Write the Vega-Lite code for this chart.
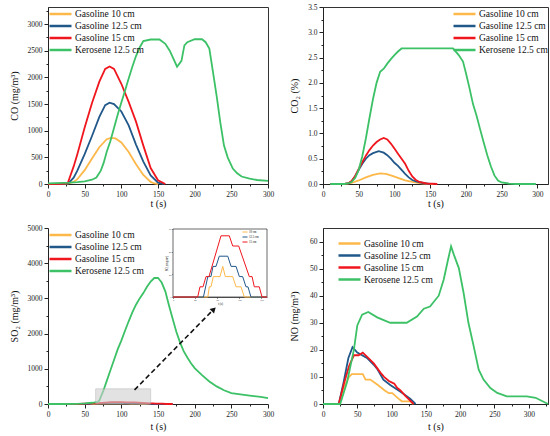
{
  "$schema": "https://vega.github.io/schema/vega-lite/v6.json",
  "background": "white",
  "padding": {"left": 8, "top": 2, "right": 0, "bottom": 0},
  "columns": 2,
  "spacing": {"row": 15, "column": 13},
  "datasets": {
    "co": [
      {"s": "Gasoline 10 cm", "t": 0, "v": 0}, {"s": "Gasoline 10 cm", "t": 20, "v": 5}, {"s": "Gasoline 10 cm", "t": 28, "v": 10}, {"s": "Gasoline 10 cm", "t": 35, "v": 40}, {"s": "Gasoline 10 cm", "t": 40, "v": 90}, {"s": "Gasoline 10 cm", "t": 50, "v": 260}, {"s": "Gasoline 10 cm", "t": 60, "v": 480}, {"s": "Gasoline 10 cm", "t": 70, "v": 690}, {"s": "Gasoline 10 cm", "t": 80, "v": 840}, {"s": "Gasoline 10 cm", "t": 86, "v": 865}, {"s": "Gasoline 10 cm", "t": 92, "v": 855}, {"s": "Gasoline 10 cm", "t": 100, "v": 780}, {"s": "Gasoline 10 cm", "t": 110, "v": 600}, {"s": "Gasoline 10 cm", "t": 120, "v": 370}, {"s": "Gasoline 10 cm", "t": 130, "v": 170}, {"s": "Gasoline 10 cm", "t": 140, "v": 40}, {"s": "Gasoline 10 cm", "t": 145, "v": 10}, {"s": "Gasoline 10 cm", "t": 150, "v": 0},
      {"s": "Gasoline 12.5 cm", "t": 0, "v": 0}, {"s": "Gasoline 12.5 cm", "t": 20, "v": 5}, {"s": "Gasoline 12.5 cm", "t": 28, "v": 15}, {"s": "Gasoline 12.5 cm", "t": 35, "v": 120}, {"s": "Gasoline 12.5 cm", "t": 40, "v": 250}, {"s": "Gasoline 12.5 cm", "t": 50, "v": 560}, {"s": "Gasoline 12.5 cm", "t": 60, "v": 900}, {"s": "Gasoline 12.5 cm", "t": 70, "v": 1260}, {"s": "Gasoline 12.5 cm", "t": 78, "v": 1480}, {"s": "Gasoline 12.5 cm", "t": 84, "v": 1525}, {"s": "Gasoline 12.5 cm", "t": 90, "v": 1500}, {"s": "Gasoline 12.5 cm", "t": 100, "v": 1360}, {"s": "Gasoline 12.5 cm", "t": 110, "v": 1100}, {"s": "Gasoline 12.5 cm", "t": 120, "v": 740}, {"s": "Gasoline 12.5 cm", "t": 130, "v": 420}, {"s": "Gasoline 12.5 cm", "t": 140, "v": 160}, {"s": "Gasoline 12.5 cm", "t": 150, "v": 25}, {"s": "Gasoline 12.5 cm", "t": 158, "v": 0},
      {"s": "Gasoline 15 cm", "t": 0, "v": 0}, {"s": "Gasoline 15 cm", "t": 20, "v": 5}, {"s": "Gasoline 15 cm", "t": 27, "v": 20}, {"s": "Gasoline 15 cm", "t": 35, "v": 330}, {"s": "Gasoline 15 cm", "t": 40, "v": 560}, {"s": "Gasoline 15 cm", "t": 50, "v": 1060}, {"s": "Gasoline 15 cm", "t": 60, "v": 1520}, {"s": "Gasoline 15 cm", "t": 70, "v": 1920}, {"s": "Gasoline 15 cm", "t": 78, "v": 2160}, {"s": "Gasoline 15 cm", "t": 84, "v": 2205}, {"s": "Gasoline 15 cm", "t": 90, "v": 2160}, {"s": "Gasoline 15 cm", "t": 100, "v": 1880}, {"s": "Gasoline 15 cm", "t": 110, "v": 1540}, {"s": "Gasoline 15 cm", "t": 120, "v": 1170}, {"s": "Gasoline 15 cm", "t": 130, "v": 720}, {"s": "Gasoline 15 cm", "t": 140, "v": 300}, {"s": "Gasoline 15 cm", "t": 150, "v": 70}, {"s": "Gasoline 15 cm", "t": 160, "v": 0},
      {"s": "Kerosene 12.5 cm", "t": 0, "v": 10}, {"s": "Kerosene 12.5 cm", "t": 10, "v": 15}, {"s": "Kerosene 12.5 cm", "t": 20, "v": 20}, {"s": "Kerosene 12.5 cm", "t": 30, "v": 25}, {"s": "Kerosene 12.5 cm", "t": 40, "v": 35}, {"s": "Kerosene 12.5 cm", "t": 50, "v": 50}, {"s": "Kerosene 12.5 cm", "t": 60, "v": 80}, {"s": "Kerosene 12.5 cm", "t": 66, "v": 120}, {"s": "Kerosene 12.5 cm", "t": 72, "v": 250}, {"s": "Kerosene 12.5 cm", "t": 76, "v": 400}, {"s": "Kerosene 12.5 cm", "t": 80, "v": 600}, {"s": "Kerosene 12.5 cm", "t": 85, "v": 800}, {"s": "Kerosene 12.5 cm", "t": 90, "v": 1050}, {"s": "Kerosene 12.5 cm", "t": 95, "v": 1300}, {"s": "Kerosene 12.5 cm", "t": 100, "v": 1530}, {"s": "Kerosene 12.5 cm", "t": 105, "v": 1750}, {"s": "Kerosene 12.5 cm", "t": 110, "v": 1980}, {"s": "Kerosene 12.5 cm", "t": 115, "v": 2200}, {"s": "Kerosene 12.5 cm", "t": 120, "v": 2400}, {"s": "Kerosene 12.5 cm", "t": 125, "v": 2560}, {"s": "Kerosene 12.5 cm", "t": 130, "v": 2680}, {"s": "Kerosene 12.5 cm", "t": 140, "v": 2710}, {"s": "Kerosene 12.5 cm", "t": 152, "v": 2710}, {"s": "Kerosene 12.5 cm", "t": 160, "v": 2630}, {"s": "Kerosene 12.5 cm", "t": 166, "v": 2500}, {"s": "Kerosene 12.5 cm", "t": 176, "v": 2200}, {"s": "Kerosene 12.5 cm", "t": 182, "v": 2310}, {"s": "Kerosene 12.5 cm", "t": 186, "v": 2600}, {"s": "Kerosene 12.5 cm", "t": 190, "v": 2660}, {"s": "Kerosene 12.5 cm", "t": 200, "v": 2715}, {"s": "Kerosene 12.5 cm", "t": 210, "v": 2715}, {"s": "Kerosene 12.5 cm", "t": 215, "v": 2660}, {"s": "Kerosene 12.5 cm", "t": 220, "v": 2540}, {"s": "Kerosene 12.5 cm", "t": 225, "v": 2100}, {"s": "Kerosene 12.5 cm", "t": 230, "v": 1650}, {"s": "Kerosene 12.5 cm", "t": 235, "v": 1150}, {"s": "Kerosene 12.5 cm", "t": 240, "v": 720}, {"s": "Kerosene 12.5 cm", "t": 245, "v": 500}, {"s": "Kerosene 12.5 cm", "t": 252, "v": 290}, {"s": "Kerosene 12.5 cm", "t": 258, "v": 200}, {"s": "Kerosene 12.5 cm", "t": 264, "v": 140}, {"s": "Kerosene 12.5 cm", "t": 275, "v": 100}, {"s": "Kerosene 12.5 cm", "t": 285, "v": 75}, {"s": "Kerosene 12.5 cm", "t": 300, "v": 60}
    ],
    "co2": [
      {"s": "Gasoline 10 cm", "t": 10, "v": 0}, {"s": "Gasoline 10 cm", "t": 30, "v": 0}, {"s": "Gasoline 10 cm", "t": 40, "v": 0.02}, {"s": "Gasoline 10 cm", "t": 50, "v": 0.07}, {"s": "Gasoline 10 cm", "t": 60, "v": 0.13}, {"s": "Gasoline 10 cm", "t": 70, "v": 0.18}, {"s": "Gasoline 10 cm", "t": 80, "v": 0.21}, {"s": "Gasoline 10 cm", "t": 88, "v": 0.2}, {"s": "Gasoline 10 cm", "t": 95, "v": 0.17}, {"s": "Gasoline 10 cm", "t": 105, "v": 0.12}, {"s": "Gasoline 10 cm", "t": 115, "v": 0.07}, {"s": "Gasoline 10 cm", "t": 125, "v": 0.04}, {"s": "Gasoline 10 cm", "t": 135, "v": 0.02}, {"s": "Gasoline 10 cm", "t": 145, "v": 0.005}, {"s": "Gasoline 10 cm", "t": 155, "v": 0},
      {"s": "Gasoline 12.5 cm", "t": 10, "v": 0}, {"s": "Gasoline 12.5 cm", "t": 30, "v": 0}, {"s": "Gasoline 12.5 cm", "t": 35, "v": 0.01}, {"s": "Gasoline 12.5 cm", "t": 40, "v": 0.05}, {"s": "Gasoline 12.5 cm", "t": 45, "v": 0.15}, {"s": "Gasoline 12.5 cm", "t": 50, "v": 0.28}, {"s": "Gasoline 12.5 cm", "t": 55, "v": 0.4}, {"s": "Gasoline 12.5 cm", "t": 60, "v": 0.5}, {"s": "Gasoline 12.5 cm", "t": 65, "v": 0.57}, {"s": "Gasoline 12.5 cm", "t": 70, "v": 0.61}, {"s": "Gasoline 12.5 cm", "t": 78, "v": 0.65}, {"s": "Gasoline 12.5 cm", "t": 85, "v": 0.62}, {"s": "Gasoline 12.5 cm", "t": 90, "v": 0.57}, {"s": "Gasoline 12.5 cm", "t": 95, "v": 0.5}, {"s": "Gasoline 12.5 cm", "t": 100, "v": 0.42}, {"s": "Gasoline 12.5 cm", "t": 105, "v": 0.36}, {"s": "Gasoline 12.5 cm", "t": 110, "v": 0.28}, {"s": "Gasoline 12.5 cm", "t": 115, "v": 0.2}, {"s": "Gasoline 12.5 cm", "t": 120, "v": 0.13}, {"s": "Gasoline 12.5 cm", "t": 125, "v": 0.08}, {"s": "Gasoline 12.5 cm", "t": 130, "v": 0.05}, {"s": "Gasoline 12.5 cm", "t": 140, "v": 0.02}, {"s": "Gasoline 12.5 cm", "t": 150, "v": 0},
      {"s": "Gasoline 15 cm", "t": 10, "v": 0}, {"s": "Gasoline 15 cm", "t": 30, "v": 0}, {"s": "Gasoline 15 cm", "t": 35, "v": 0.01}, {"s": "Gasoline 15 cm", "t": 40, "v": 0.06}, {"s": "Gasoline 15 cm", "t": 45, "v": 0.16}, {"s": "Gasoline 15 cm", "t": 50, "v": 0.3}, {"s": "Gasoline 15 cm", "t": 55, "v": 0.43}, {"s": "Gasoline 15 cm", "t": 60, "v": 0.56}, {"s": "Gasoline 15 cm", "t": 65, "v": 0.67}, {"s": "Gasoline 15 cm", "t": 70, "v": 0.76}, {"s": "Gasoline 15 cm", "t": 75, "v": 0.83}, {"s": "Gasoline 15 cm", "t": 80, "v": 0.88}, {"s": "Gasoline 15 cm", "t": 85, "v": 0.91}, {"s": "Gasoline 15 cm", "t": 90, "v": 0.88}, {"s": "Gasoline 15 cm", "t": 95, "v": 0.8}, {"s": "Gasoline 15 cm", "t": 100, "v": 0.7}, {"s": "Gasoline 15 cm", "t": 105, "v": 0.6}, {"s": "Gasoline 15 cm", "t": 110, "v": 0.5}, {"s": "Gasoline 15 cm", "t": 115, "v": 0.4}, {"s": "Gasoline 15 cm", "t": 120, "v": 0.26}, {"s": "Gasoline 15 cm", "t": 125, "v": 0.15}, {"s": "Gasoline 15 cm", "t": 130, "v": 0.08}, {"s": "Gasoline 15 cm", "t": 135, "v": 0.04}, {"s": "Gasoline 15 cm", "t": 145, "v": 0.01}, {"s": "Gasoline 15 cm", "t": 160, "v": 0},
      {"s": "Kerosene 12.5 cm", "t": 10, "v": 0}, {"s": "Kerosene 12.5 cm", "t": 30, "v": 0}, {"s": "Kerosene 12.5 cm", "t": 35, "v": 0.01}, {"s": "Kerosene 12.5 cm", "t": 40, "v": 0.04}, {"s": "Kerosene 12.5 cm", "t": 45, "v": 0.12}, {"s": "Kerosene 12.5 cm", "t": 50, "v": 0.28}, {"s": "Kerosene 12.5 cm", "t": 55, "v": 0.55}, {"s": "Kerosene 12.5 cm", "t": 60, "v": 0.9}, {"s": "Kerosene 12.5 cm", "t": 65, "v": 1.3}, {"s": "Kerosene 12.5 cm", "t": 70, "v": 1.68}, {"s": "Kerosene 12.5 cm", "t": 75, "v": 2.0}, {"s": "Kerosene 12.5 cm", "t": 80, "v": 2.22}, {"s": "Kerosene 12.5 cm", "t": 85, "v": 2.28}, {"s": "Kerosene 12.5 cm", "t": 90, "v": 2.38}, {"s": "Kerosene 12.5 cm", "t": 95, "v": 2.47}, {"s": "Kerosene 12.5 cm", "t": 100, "v": 2.55}, {"s": "Kerosene 12.5 cm", "t": 105, "v": 2.62}, {"s": "Kerosene 12.5 cm", "t": 110, "v": 2.68}, {"s": "Kerosene 12.5 cm", "t": 182, "v": 2.68}, {"s": "Kerosene 12.5 cm", "t": 190, "v": 2.55}, {"s": "Kerosene 12.5 cm", "t": 196, "v": 2.42}, {"s": "Kerosene 12.5 cm", "t": 200, "v": 2.2}, {"s": "Kerosene 12.5 cm", "t": 205, "v": 1.9}, {"s": "Kerosene 12.5 cm", "t": 210, "v": 1.58}, {"s": "Kerosene 12.5 cm", "t": 215, "v": 1.35}, {"s": "Kerosene 12.5 cm", "t": 220, "v": 1.08}, {"s": "Kerosene 12.5 cm", "t": 225, "v": 0.82}, {"s": "Kerosene 12.5 cm", "t": 230, "v": 0.57}, {"s": "Kerosene 12.5 cm", "t": 235, "v": 0.35}, {"s": "Kerosene 12.5 cm", "t": 240, "v": 0.17}, {"s": "Kerosene 12.5 cm", "t": 245, "v": 0.07}, {"s": "Kerosene 12.5 cm", "t": 250, "v": 0.03}, {"s": "Kerosene 12.5 cm", "t": 260, "v": 0.01}, {"s": "Kerosene 12.5 cm", "t": 270, "v": 0}, {"s": "Kerosene 12.5 cm", "t": 298, "v": 0}
    ],
    "so2": [
      {"s": "Gasoline 10 cm", "t": 0, "v": 0}, {"s": "Gasoline 10 cm", "t": 63, "v": 0}, {"s": "Gasoline 10 cm", "t": 65.6, "v": 9}, {"s": "Gasoline 10 cm", "t": 68.7, "v": 9}, {"s": "Gasoline 10 cm", "t": 72.9, "v": 18}, {"s": "Gasoline 10 cm", "t": 85, "v": 18}, {"s": "Gasoline 10 cm", "t": 90, "v": 27}, {"s": "Gasoline 10 cm", "t": 94.6, "v": 18}, {"s": "Gasoline 10 cm", "t": 108, "v": 18}, {"s": "Gasoline 10 cm", "t": 114, "v": 9}, {"s": "Gasoline 10 cm", "t": 123, "v": 9}, {"s": "Gasoline 10 cm", "t": 129, "v": 0}, {"s": "Gasoline 10 cm", "t": 170, "v": 0},
      {"s": "Gasoline 12.5 cm", "t": 0, "v": 0}, {"s": "Gasoline 12.5 cm", "t": 55, "v": 0}, {"s": "Gasoline 12.5 cm", "t": 63, "v": 18}, {"s": "Gasoline 12.5 cm", "t": 68.7, "v": 18}, {"s": "Gasoline 12.5 cm", "t": 72.3, "v": 27}, {"s": "Gasoline 12.5 cm", "t": 77.8, "v": 27}, {"s": "Gasoline 12.5 cm", "t": 83.7, "v": 36}, {"s": "Gasoline 12.5 cm", "t": 99, "v": 36}, {"s": "Gasoline 12.5 cm", "t": 105, "v": 27}, {"s": "Gasoline 12.5 cm", "t": 114, "v": 27}, {"s": "Gasoline 12.5 cm", "t": 120, "v": 18}, {"s": "Gasoline 12.5 cm", "t": 126, "v": 18}, {"s": "Gasoline 12.5 cm", "t": 132, "v": 9}, {"s": "Gasoline 12.5 cm", "t": 135.6, "v": 9}, {"s": "Gasoline 12.5 cm", "t": 141, "v": 0}, {"s": "Gasoline 12.5 cm", "t": 170, "v": 0},
      {"s": "Gasoline 15 cm", "t": 0, "v": 0}, {"s": "Gasoline 15 cm", "t": 44.7, "v": 0}, {"s": "Gasoline 15 cm", "t": 48.8, "v": 9}, {"s": "Gasoline 15 cm", "t": 54.3, "v": 9}, {"s": "Gasoline 15 cm", "t": 59.7, "v": 18}, {"s": "Gasoline 15 cm", "t": 65.1, "v": 18}, {"s": "Gasoline 15 cm", "t": 86.8, "v": 54}, {"s": "Gasoline 15 cm", "t": 101.8, "v": 54}, {"s": "Gasoline 15 cm", "t": 108, "v": 45}, {"s": "Gasoline 15 cm", "t": 118.8, "v": 45}, {"s": "Gasoline 15 cm", "t": 138, "v": 18}, {"s": "Gasoline 15 cm", "t": 143, "v": 18}, {"s": "Gasoline 15 cm", "t": 147, "v": 9}, {"s": "Gasoline 15 cm", "t": 156, "v": 9}, {"s": "Gasoline 15 cm", "t": 161, "v": 0}, {"s": "Gasoline 15 cm", "t": 170, "v": 0},
      {"s": "Kerosene 12.5 cm", "t": 0, "v": 0}, {"s": "Kerosene 12.5 cm", "t": 20, "v": 0}, {"s": "Kerosene 12.5 cm", "t": 40, "v": 5}, {"s": "Kerosene 12.5 cm", "t": 50, "v": 15}, {"s": "Kerosene 12.5 cm", "t": 60, "v": 35}, {"s": "Kerosene 12.5 cm", "t": 68, "v": 60}, {"s": "Kerosene 12.5 cm", "t": 70, "v": 100}, {"s": "Kerosene 12.5 cm", "t": 75, "v": 350}, {"s": "Kerosene 12.5 cm", "t": 80, "v": 650}, {"s": "Kerosene 12.5 cm", "t": 85, "v": 950}, {"s": "Kerosene 12.5 cm", "t": 90, "v": 1250}, {"s": "Kerosene 12.5 cm", "t": 95, "v": 1550}, {"s": "Kerosene 12.5 cm", "t": 100, "v": 1800}, {"s": "Kerosene 12.5 cm", "t": 105, "v": 2080}, {"s": "Kerosene 12.5 cm", "t": 110, "v": 2350}, {"s": "Kerosene 12.5 cm", "t": 115, "v": 2600}, {"s": "Kerosene 12.5 cm", "t": 120, "v": 2820}, {"s": "Kerosene 12.5 cm", "t": 125, "v": 3000}, {"s": "Kerosene 12.5 cm", "t": 130, "v": 3150}, {"s": "Kerosene 12.5 cm", "t": 135, "v": 3330}, {"s": "Kerosene 12.5 cm", "t": 140, "v": 3480}, {"s": "Kerosene 12.5 cm", "t": 145, "v": 3580}, {"s": "Kerosene 12.5 cm", "t": 150, "v": 3585}, {"s": "Kerosene 12.5 cm", "t": 155, "v": 3450}, {"s": "Kerosene 12.5 cm", "t": 160, "v": 3200}, {"s": "Kerosene 12.5 cm", "t": 165, "v": 2800}, {"s": "Kerosene 12.5 cm", "t": 170, "v": 2420}, {"s": "Kerosene 12.5 cm", "t": 175, "v": 2050}, {"s": "Kerosene 12.5 cm", "t": 180, "v": 1750}, {"s": "Kerosene 12.5 cm", "t": 185, "v": 1500}, {"s": "Kerosene 12.5 cm", "t": 190, "v": 1320}, {"s": "Kerosene 12.5 cm", "t": 195, "v": 1160}, {"s": "Kerosene 12.5 cm", "t": 200, "v": 1020}, {"s": "Kerosene 12.5 cm", "t": 210, "v": 820}, {"s": "Kerosene 12.5 cm", "t": 220, "v": 640}, {"s": "Kerosene 12.5 cm", "t": 230, "v": 500}, {"s": "Kerosene 12.5 cm", "t": 240, "v": 390}, {"s": "Kerosene 12.5 cm", "t": 250, "v": 310}, {"s": "Kerosene 12.5 cm", "t": 260, "v": 280}, {"s": "Kerosene 12.5 cm", "t": 275, "v": 240}, {"s": "Kerosene 12.5 cm", "t": 290, "v": 200}, {"s": "Kerosene 12.5 cm", "t": 300, "v": 170}
    ],
    "no": [
      {"s": "Gasoline 10 cm", "t": 0, "v": 0}, {"s": "Gasoline 10 cm", "t": 23, "v": 0}, {"s": "Gasoline 10 cm", "t": 30, "v": 6}, {"s": "Gasoline 10 cm", "t": 38, "v": 10}, {"s": "Gasoline 10 cm", "t": 42, "v": 11}, {"s": "Gasoline 10 cm", "t": 58, "v": 11}, {"s": "Gasoline 10 cm", "t": 62, "v": 9}, {"s": "Gasoline 10 cm", "t": 69, "v": 9}, {"s": "Gasoline 10 cm", "t": 80, "v": 7}, {"s": "Gasoline 10 cm", "t": 90, "v": 5}, {"s": "Gasoline 10 cm", "t": 96, "v": 4}, {"s": "Gasoline 10 cm", "t": 101, "v": 4}, {"s": "Gasoline 10 cm", "t": 110, "v": 2}, {"s": "Gasoline 10 cm", "t": 115, "v": 1}, {"s": "Gasoline 10 cm", "t": 127, "v": 1}, {"s": "Gasoline 10 cm", "t": 132, "v": 0},
      {"s": "Gasoline 12.5 cm", "t": 0, "v": 0}, {"s": "Gasoline 12.5 cm", "t": 23, "v": 0}, {"s": "Gasoline 12.5 cm", "t": 30, "v": 8}, {"s": "Gasoline 12.5 cm", "t": 37, "v": 17}, {"s": "Gasoline 12.5 cm", "t": 43, "v": 21}, {"s": "Gasoline 12.5 cm", "t": 50, "v": 19}, {"s": "Gasoline 12.5 cm", "t": 64, "v": 17}, {"s": "Gasoline 12.5 cm", "t": 74, "v": 14.5}, {"s": "Gasoline 12.5 cm", "t": 79, "v": 13}, {"s": "Gasoline 12.5 cm", "t": 88, "v": 9}, {"s": "Gasoline 12.5 cm", "t": 98, "v": 7}, {"s": "Gasoline 12.5 cm", "t": 113, "v": 4.5}, {"s": "Gasoline 12.5 cm", "t": 127, "v": 2}, {"s": "Gasoline 12.5 cm", "t": 135, "v": 0},
      {"s": "Gasoline 15 cm", "t": 0, "v": 0}, {"s": "Gasoline 15 cm", "t": 23, "v": 0}, {"s": "Gasoline 15 cm", "t": 30, "v": 7}, {"s": "Gasoline 15 cm", "t": 38, "v": 14}, {"s": "Gasoline 15 cm", "t": 45, "v": 18}, {"s": "Gasoline 15 cm", "t": 52, "v": 18}, {"s": "Gasoline 15 cm", "t": 58, "v": 19}, {"s": "Gasoline 15 cm", "t": 64, "v": 17.5}, {"s": "Gasoline 15 cm", "t": 74, "v": 15}, {"s": "Gasoline 15 cm", "t": 84, "v": 11.5}, {"s": "Gasoline 15 cm", "t": 89, "v": 10}, {"s": "Gasoline 15 cm", "t": 96, "v": 8.5}, {"s": "Gasoline 15 cm", "t": 100, "v": 8}, {"s": "Gasoline 15 cm", "t": 104, "v": 7.5}, {"s": "Gasoline 15 cm", "t": 108, "v": 6}, {"s": "Gasoline 15 cm", "t": 113, "v": 5}, {"s": "Gasoline 15 cm", "t": 120, "v": 3}, {"s": "Gasoline 15 cm", "t": 126, "v": 1.5}, {"s": "Gasoline 15 cm", "t": 132, "v": 0},
      {"s": "Kerosene 12.5 cm", "t": 0, "v": 0}, {"s": "Kerosene 12.5 cm", "t": 25, "v": 0}, {"s": "Kerosene 12.5 cm", "t": 35, "v": 8}, {"s": "Kerosene 12.5 cm", "t": 45, "v": 20}, {"s": "Kerosene 12.5 cm", "t": 50, "v": 29}, {"s": "Kerosene 12.5 cm", "t": 57, "v": 33}, {"s": "Kerosene 12.5 cm", "t": 66, "v": 34}, {"s": "Kerosene 12.5 cm", "t": 79, "v": 32}, {"s": "Kerosene 12.5 cm", "t": 88.5, "v": 31}, {"s": "Kerosene 12.5 cm", "t": 98, "v": 30}, {"s": "Kerosene 12.5 cm", "t": 122, "v": 30}, {"s": "Kerosene 12.5 cm", "t": 137, "v": 32.3}, {"s": "Kerosene 12.5 cm", "t": 147, "v": 35.2}, {"s": "Kerosene 12.5 cm", "t": 156, "v": 36}, {"s": "Kerosene 12.5 cm", "t": 168.7, "v": 40}, {"s": "Kerosene 12.5 cm", "t": 176, "v": 46}, {"s": "Kerosene 12.5 cm", "t": 182, "v": 53}, {"s": "Kerosene 12.5 cm", "t": 186.7, "v": 58.2}, {"s": "Kerosene 12.5 cm", "t": 191, "v": 55}, {"s": "Kerosene 12.5 cm", "t": 198, "v": 50.2}, {"s": "Kerosene 12.5 cm", "t": 205, "v": 41}, {"s": "Kerosene 12.5 cm", "t": 212, "v": 30}, {"s": "Kerosene 12.5 cm", "t": 219.7, "v": 21.3}, {"s": "Kerosene 12.5 cm", "t": 227, "v": 12.7}, {"s": "Kerosene 12.5 cm", "t": 234, "v": 9}, {"s": "Kerosene 12.5 cm", "t": 244, "v": 5.9}, {"s": "Kerosene 12.5 cm", "t": 254, "v": 4.1}, {"s": "Kerosene 12.5 cm", "t": 268, "v": 2.8}, {"s": "Kerosene 12.5 cm", "t": 297, "v": 2.8}, {"s": "Kerosene 12.5 cm", "t": 310, "v": 2.3}, {"s": "Kerosene 12.5 cm", "t": 328, "v": 0}
    ],
    "box": [{"t": 65, "t2": 140, "v": 0, "v2": 430}],
    "arrow": [{"t": 118, "v": 400}, {"t": 224, "v": 2650}],
    "head": [{"t": 226, "v": 2690}],
    "frame": [{"t": 0, "t2": 170, "v": 0, "v2": 60}]
  },
  "concat": [
    {
      "width": 220, "height": 177,
      "data": {"name": "co"},
      "layer": [
        {
          "mark": {"type": "line", "strokeWidth": 1.8},
          "encoding": {
            "x": {"field": "t", "type": "quantitative", "scale": {"domain": [0, 300], "nice": false}, "axis": {"values": [0, 50, 100, 150, 200, 250, 300], "format": "d", "title": "t (s)", "titlePadding": 1}},
            "y": {"field": "v", "type": "quantitative", "scale": {"domain": [0, 3320], "nice": false}, "axis": {"values": [0, 500, 1000, 1500, 2000, 2500, 3000], "format": "d", "title": "CO (mg/m³)", "minExtent": 21, "maxExtent": 21, "titlePadding": 8}},
            "color": {"field": "s", "type": "nominal", "scale": {"domain": ["Gasoline 10 cm", "Gasoline 12.5 cm", "Gasoline 15 cm", "Kerosene 12.5 cm"], "range": ["#FDB84A", "#21588A", "#F0161E", "#3CC166"]}, "legend": {"title": null, "orient": "none", "legendX": 5.5, "legendY": 0}}
          }
        },
        {
          "mark": {"type": "line", "opacity": 0},
          "encoding": {
            "x": {"field": "t", "type": "quantitative", "scale": {"domain": [0, 300], "nice": false}, "axis": {"orient": "bottom", "values": [25, 75, 125, 175, 225, 275], "labels": false, "domain": false, "title": null, "tickSize": 2}},
            "y": {"field": "v", "type": "quantitative", "scale": {"domain": [0, 3320], "nice": false}, "axis": {"orient": "left", "values": [250, 750, 1250, 1750, 2250, 2750, 3250], "labels": false, "domain": false, "title": null, "tickSize": 2}}
          }
        }
      ],
      "resolve": {"axis": {"x": "independent", "y": "independent"}}
    },
    {
      "width": 225, "height": 177,
      "data": {"name": "co2"},
      "layer": [
        {
          "mark": {"type": "line", "strokeWidth": 1.8},
          "encoding": {
            "x": {"field": "t", "type": "quantitative", "scale": {"domain": [0, 315], "nice": false}, "axis": {"values": [0, 50, 100, 150, 200, 250, 300], "format": "d", "title": "t (s)", "titlePadding": 1}},
            "y": {"field": "v", "type": "quantitative", "scale": {"domain": [0, 3.5], "nice": false}, "axis": {"values": [0, 0.5, 1, 1.5, 2, 2.5, 3, 3.5], "format": ".1f", "title": "CO₂ (%)", "minExtent": 18, "maxExtent": 18, "titlePadding": 6}},
            "color": {"field": "s", "type": "nominal", "scale": {"domain": ["Gasoline 10 cm", "Gasoline 12.5 cm", "Gasoline 15 cm", "Kerosene 12.5 cm"], "range": ["#FDB84A", "#21588A", "#F0161E", "#3CC166"]}, "legend": {"title": null, "orient": "none", "legendX": 134.5, "legendY": 0}}
          }
        },
        {
          "mark": {"type": "line", "opacity": 0},
          "encoding": {
            "x": {"field": "t", "type": "quantitative", "scale": {"domain": [0, 315], "nice": false}, "axis": {"orient": "bottom", "values": [25, 75, 125, 175, 225, 275], "labels": false, "domain": false, "title": null, "tickSize": 2}},
            "y": {"field": "v", "type": "quantitative", "scale": {"domain": [0, 3.5], "nice": false}, "axis": {"orient": "left", "values": [0.25, 0.75, 1.25, 1.75, 2.25, 2.75, 3.25], "labels": false, "domain": false, "title": null, "tickSize": 2}}
          }
        }
      ],
      "resolve": {"axis": {"x": "independent", "y": "independent"}}
    },
    {
      "width": 220, "height": 176,
      "view": {"stroke": null},
      "layer": [
        {
          "layer": [
            {
              "data": {"name": "so2"},
              "mark": {"type": "line", "strokeWidth": 1.8},
              "encoding": {
                "x": {"field": "t", "type": "quantitative", "scale": {"domain": [0, 300], "nice": false}, "axis": {"values": [0, 50, 100, 150, 200, 250, 300], "format": "d", "labelOverlap": false, "title": "t (s)", "titlePadding": 4}},
                "y": {"field": "v", "type": "quantitative", "scale": {"domain": [0, 5000], "nice": false}, "axis": {"values": [0, 1000, 2000, 3000, 4000, 5000], "format": "d", "labelOverlap": false, "title": "SO₂ (mg/m³)", "minExtent": 21, "maxExtent": 21, "titlePadding": 8}},
                "color": {"field": "s", "type": "nominal", "scale": {"domain": ["Gasoline 10 cm", "Gasoline 12.5 cm", "Gasoline 15 cm", "Kerosene 12.5 cm"], "range": ["#FDB84A", "#21588A", "#F0161E", "#3CC166"]}, "legend": {"title": null, "orient": "none", "legendX": 5.5, "legendY": 0}}
              }
            },
            {
              "data": {"name": "so2"},
              "mark": {"type": "line", "opacity": 0},
              "encoding": {
                "x": {"field": "t", "type": "quantitative", "axis": {"orient": "bottom", "values": [25, 75, 125, 175, 225, 275], "labels": false, "domain": false, "title": null, "tickSize": 2}},
                "y": {"field": "v", "type": "quantitative", "axis": {"orient": "left", "values": [500, 1500, 2500, 3500, 4500], "labels": false, "domain": false, "title": null, "tickSize": 2}}
              }
            },
            {
              "data": {"name": "box"},
              "mark": {"type": "rect", "fill": "#cfcfcf", "opacity": 0.6, "stroke": "#aaaaaa", "strokeWidth": 0.8},
              "encoding": {
                "x": {"field": "t", "type": "quantitative", "axis": null},
                "x2": {"field": "t2"},
                "y": {"field": "v", "type": "quantitative", "axis": null},
                "y2": {"field": "v2"}
              }
            },
            {
              "data": {"name": "arrow"},
              "mark": {"type": "line", "color": "#111111", "strokeWidth": 1.6, "strokeDash": [5, 3]},
              "encoding": {
                "x": {"field": "t", "type": "quantitative", "axis": null},
                "y": {"field": "v", "type": "quantitative", "axis": null}
              }
            },
            {
              "data": {"name": "head"},
              "mark": {"type": "point", "shape": "triangle-up", "angle": 45, "filled": true, "color": "#111111", "size": 40, "opacity": 1},
              "encoding": {
                "x": {"field": "t", "type": "quantitative", "axis": null},
                "y": {"field": "v", "type": "quantitative", "axis": null}
              }
            }
          ],
          "resolve": {"axis": {"x": "independent", "y": "independent"}}
        },
        {
          "layer": [
            {
              "data": {"name": "frame"},
              "mark": {"type": "rect", "fill": "white", "stroke": "#444444", "strokeWidth": 0.8},
              "encoding": {
                "x": {"field": "t", "type": "quantitative", "scale": {"domain": [0, 170], "range": [125, 219], "nice": false}, "axis": {"orient": "bottom", "offset": -107, "values": [0, 20, 40, 60, 80, 100, 120, 140, 160], "labelOverlap": false, "title": "t (s)", "titleFontSize": 3, "titlePadding": 0.5, "labelFontSize": 2.5, "labelPadding": 0.5, "tickSize": 1.5, "tickWidth": 0.5, "domainWidth": 0.8}},
                "x2": {"field": "t2"},
                "y": {"field": "v", "type": "quantitative", "scale": {"domain": [0, 60], "range": [69, 1], "nice": false}, "axis": {"orient": "left", "offset": -125, "values": [0, 10, 20, 30, 40, 50, 60], "labelOverlap": false, "title": "SO₂ (mg/m³)", "titleFontSize": 3, "titlePadding": 0.5, "labelFontSize": 2.5, "labelPadding": 0.5, "tickSize": 1.5, "tickWidth": 0.5, "domainWidth": 0.8}},
                "y2": {"field": "v2"}
              }
            },
            {
              "data": {"name": "so2"},
              "transform": [{"filter": "datum.s !== 'Kerosene 12.5 cm'"}],
              "mark": {"type": "line", "strokeWidth": 1},
              "encoding": {
                "x": {"field": "t", "type": "quantitative"},
                "y": {"field": "v", "type": "quantitative"},
                "color": {"field": "s", "type": "nominal", "scale": {"domain": ["Gasoline 10 cm", "Gasoline 12.5 cm", "Gasoline 15 cm"], "range": ["#FDB84A", "#21588A", "#F0161E"]}, "legend": {"title": null, "orient": "none", "legendX": 194, "legendY": 1, "labelFontSize": 3, "symbolType": "stroke", "symbolSize": 25, "symbolStrokeWidth": 1, "labelOffset": 1, "rowPadding": 0, "labelExpr": "replace(datum.label, 'Gasoline ', '')"}}
              }
            }
          ]
        }
      ],
      "resolve": {"scale": {"x": "independent", "y": "independent", "color": "independent"}}
    },
    {
      "width": 225, "height": 176,
      "data": {"name": "no"},
      "layer": [
        {
          "mark": {"type": "line", "strokeWidth": 1.8},
          "encoding": {
            "x": {"field": "t", "type": "quantitative", "scale": {"domain": [0, 328], "nice": false}, "axis": {"values": [0, 50, 100, 150, 200, 250, 300], "format": "d", "title": "t (s)", "titlePadding": 4}},
            "y": {"field": "v", "type": "quantitative", "scale": {"domain": [0, 65], "nice": false}, "axis": {"values": [0, 10, 20, 30, 40, 50, 60], "format": "d", "title": "NO (mg/m³)", "minExtent": 18, "maxExtent": 18, "titlePadding": 6}},
            "color": {"field": "s", "type": "nominal", "scale": {"domain": ["Gasoline 10 cm", "Gasoline 12.5 cm", "Gasoline 15 cm", "Kerosene 12.5 cm"], "range": ["#FDB84A", "#21588A", "#F0161E", "#3CC166"]}, "legend": {"title": null, "orient": "none", "legendX": 19.5, "legendY": 8.5}}
          }
        },
        {
          "mark": {"type": "line", "opacity": 0},
          "encoding": {
            "x": {"field": "t", "type": "quantitative", "scale": {"domain": [0, 328], "nice": false}, "axis": {"orient": "bottom", "values": [25, 75, 125, 175, 225, 275, 325], "labels": false, "domain": false, "title": null, "tickSize": 2}},
            "y": {"field": "v", "type": "quantitative", "scale": {"domain": [0, 65], "nice": false}, "axis": {"orient": "left", "values": [5, 15, 25, 35, 45, 55], "labels": false, "domain": false, "title": null, "tickSize": 2}}
          }
        }
      ],
      "resolve": {"axis": {"x": "independent", "y": "independent"}}
    }
  ],
  "resolve": {"scale": {"color": "independent"}},
  "config": {
    "font": "Liberation Serif",
    "view": {"stroke": "#333333", "strokeWidth": 1},
    "axis": {"grid": false, "domainColor": "#222222", "tickColor": "#222222", "labelColor": "#222222", "titleColor": "#111111", "labelFont": "Liberation Serif", "titleFont": "Liberation Serif", "labelFontSize": 7.5, "titleFontSize": 10, "titleFontWeight": "normal", "tickSize": 4, "labelPadding": 2, "labelFlush": false, "labelOverlap": false},
    "legend": {"labelFont": "Liberation Serif", "labelFontSize": 9.5, "labelColor": "#111111", "symbolType": "M-2,0H2", "symbolStrokeWidth": 2.5, "symbolSize": 121, "labelOffset": 7.5, "rowPadding": 0, "padding": 0}
  }
}
